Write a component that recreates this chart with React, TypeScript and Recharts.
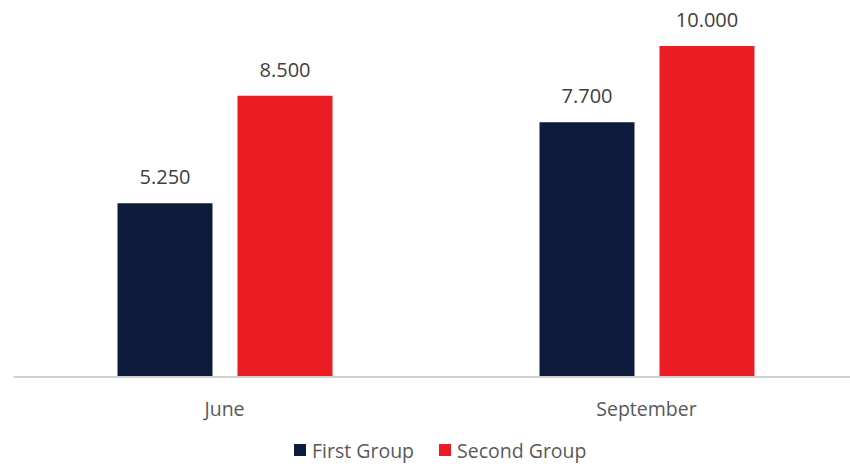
import React from 'react';
import { BarChart, Bar, XAxis, YAxis, LabelList, Legend } from 'recharts';

const categories = ['June', 'September'];
const firstGroup = [5250, 7700];
const secondGroup = [8500, 10000];
const seriesNames = ['First Group', 'Second Group'];
const colors = ['#0d1a3b', '#ec1c24'];

const data = categories.map((c, i) => ({ name: c, first: firstGroup[i], second: secondGroup[i] }));

const fmt = (v: any) => {
  const s = String(Math.round(Number(v)));
  return s.replace(/\B(?=(\d{3})+(?!\d))/g, '.');
};

const FONT = '"Open Sans", Lato, sans-serif';

const LegendContent = () => (
  <div style={{ display: 'flex', alignItems: 'center', height: 24, fontFamily: FONT, fontSize: 19.5, color: '#595959' }}>
    {seriesNames.map((n, i) => (
      <div key={n} style={{ display: 'flex', alignItems: 'center', marginRight: i === 0 ? 25 : 0 }}>
        <div style={{ width: 12, height: 12, background: colors[i], marginRight: 6 }} />
        <span>{n}</span>
      </div>
    ))}
  </div>
);

export default function App() {
  return (
    <div style={{ position: 'absolute', left: 0, top: 0, width: 850, height: 464, overflow: 'hidden', background: '#fff' }}>
      <BarChart
        width={860}
        height={464}
        data={data}
        margin={{ top: 46, right: 2.5, left: 13.5, bottom: 57 }}
        barSize={95}
        barGap={25}
      >
        <XAxis
          dataKey="name"
          height={30}
          tickLine={false}
          tickSize={0}
          tickMargin={25}
          axisLine={{ stroke: '#d0d0d0', strokeWidth: 2 }}
          tick={{ fill: '#595959', fontSize: 19.5, fontFamily: FONT }}
        />
        <YAxis hide domain={[0, 10000]} />
        <Legend
          verticalAlign="middle"
          align="center"
          layout="horizontal"
          wrapperStyle={{ top: 438, left: 294, width: 'auto' }}
          content={<LegendContent />}
        />
        <Bar dataKey="first" name={seriesNames[0]} fill={colors[0]} isAnimationActive={false}>
          <LabelList dataKey="first" position="top" offset={19} formatter={fmt} style={{ fill: '#404040', fontSize: 20, fontFamily: FONT }} />
        </Bar>
        <Bar dataKey="second" name={seriesNames[1]} fill={colors[1]} isAnimationActive={false}>
          <LabelList dataKey="second" position="top" offset={19} formatter={fmt} style={{ fill: '#404040', fontSize: 20, fontFamily: FONT }} />
        </Bar>
      </BarChart>
    </div>
  );
}
